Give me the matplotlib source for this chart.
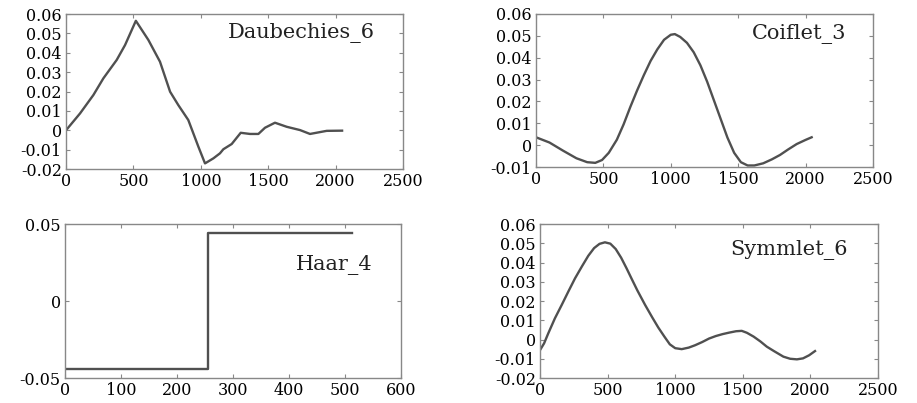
import matplotlib
matplotlib.use("Agg")
import matplotlib.pyplot as plt
from matplotlib.ticker import FuncFormatter

plt.rcParams['font.family'] = ['DejaVu Serif']
plt.rcParams['axes.unicode_minus'] = False

# Daubechies_6
daub_x = [0, 104, 203, 277, 376, 438, 518, 611, 697, 772, 833, 907, 982, 1031,
          1093, 1142, 1167, 1229, 1296, 1365, 1427, 1476, 1550, 1637, 1736,
          1810, 1934, 2048]
daub_y = [0.0, 0.0087, 0.0182, 0.0268, 0.0363, 0.044, 0.0565, 0.0466, 0.0354,
          0.0199, 0.013, 0.0053, -0.0085, -0.0171, -0.0145, -0.0119, -0.0098,
          -0.0071, -0.0013, -0.0019, -0.0019, 0.0013, 0.0039, 0.0018, 0.0001,
          -0.0019, -0.0003, -0.0002]

# Coiflet_3
coif_x = [0, 100, 200, 300, 380, 440, 490, 540, 600, 650, 700, 750, 800, 850,
          900, 950, 1000, 1030, 1070, 1120, 1170, 1220, 1270, 1320, 1370, 1420,
          1470, 1520, 1570, 1620, 1686, 1750, 1810, 1870, 1934, 2000, 2045]
coif_y = [0.0036, 0.0012, -0.0025, -0.006, -0.0078, -0.0081, -0.0068, -0.0035,
          0.0025, 0.0095, 0.0175, 0.025, 0.032, 0.0385, 0.0438, 0.0482, 0.0505,
          0.0508, 0.0495, 0.0468, 0.0425, 0.0365, 0.029, 0.0205, 0.012, 0.0035,
          -0.0035, -0.0078, -0.0093, -0.0093, -0.0083, -0.0065, -0.0045,
          -0.002, 0.0005, 0.0024, 0.0036]

# Haar_4
haar_x = [0, 256, 256, 512]
haar_y = [-0.0442, -0.0442, 0.0442, 0.0442]

# Symmlet_6
sym_x = [0, 30, 61, 110, 160, 210, 259, 310, 357, 400, 440, 480, 520, 560,
         600, 640, 678, 720, 777, 830, 875, 920, 960, 1000, 1048, 1100, 1146,
         1200, 1250, 1300, 1350, 1400, 1450, 1492, 1530, 1580, 1630, 1677,
         1730, 1800, 1850, 1900, 1945, 1990, 2034]
sym_y = [-0.0055, -0.002, 0.0032, 0.011, 0.0179, 0.025, 0.0318, 0.038, 0.0435,
         0.0475, 0.0497, 0.0505, 0.0498, 0.047, 0.0425, 0.037, 0.0315, 0.0255,
         0.018, 0.0115, 0.0062, 0.0015, -0.0025, -0.0045, -0.005, -0.0042,
         -0.003, -0.0013, 0.0005, 0.0018, 0.0028, 0.0036, 0.0043, 0.0045,
         0.0035, 0.0015, -0.001, -0.0037, -0.006, -0.0089, -0.01, -0.0103,
         -0.0098, -0.0082, -0.006]

panels = [
    dict(x=daub_x, y=daub_y, name='Daubechies_6', pos=[0.072, 0.5806, 0.3675, 0.3846],
         xlim=(0, 2500), xt=[0, 500, 1000, 1500, 2000, 2500],
         ylim=(-0.02, 0.06), yt=[-0.02, -0.01, 0, 0.01, 0.02, 0.03, 0.04, 0.05, 0.06],
         lab=(0.917, 0.88)),
    dict(x=coif_x, y=coif_y, name='Coiflet_3', pos=[0.5845, 0.5856, 0.3675, 0.3797],
         xlim=(0, 2500), xt=[0, 500, 1000, 1500, 2000, 2500],
         ylim=(-0.01, 0.06), yt=[-0.01, 0, 0.01, 0.02, 0.03, 0.04, 0.05, 0.06],
         lab=(0.922, 0.87)),
    dict(x=haar_x, y=haar_y, name='Haar_4', pos=[0.0709, 0.062, 0.3664, 0.3821],
         xlim=(0, 600), xt=[0, 100, 200, 300, 400, 500, 600],
         ylim=(-0.05, 0.05), yt=[-0.05, 0, 0.05],
         lab=(0.914, 0.734)),
    dict(x=sym_x, y=sym_y, name='Symmlet_6', pos=[0.5889, 0.062, 0.3686, 0.3821],
         xlim=(0, 2500), xt=[0, 500, 1000, 1500, 2000, 2500],
         ylim=(-0.02, 0.06), yt=[-0.02, -0.01, 0, 0.01, 0.02, 0.03, 0.04, 0.05, 0.06],
         lab=(0.911, 0.83)),
]

fig = plt.figure(figsize=(9.17, 4.03), dpi=100)
fmt = FuncFormatter(lambda v, p: '%g' % round(v, 4))

for p in panels:
    ax = fig.add_axes(p['pos'])
    ax.plot(p['x'], p['y'], color='#505050', lw=1.7, solid_joinstyle='round')
    ax.set_xlim(*p['xlim'])
    ax.set_ylim(*p['ylim'])
    ax.set_xticks(p['xt'])
    ax.set_yticks(p['yt'])
    ax.yaxis.set_major_formatter(fmt)
    ax.tick_params(direction='in', length=3, width=0.8, color='#888888',
                   top=True, right=True, labelsize=11.5, pad=3)
    for s in ax.spines.values():
        s.set_color('#888888')
        s.set_linewidth(1.0)
    ax.text(p['lab'][0], p['lab'][1], p['name'], transform=ax.transAxes,
            ha='right', va='center', fontsize=15, color='#222222')

fig.savefig('out.png', dpi=100)
